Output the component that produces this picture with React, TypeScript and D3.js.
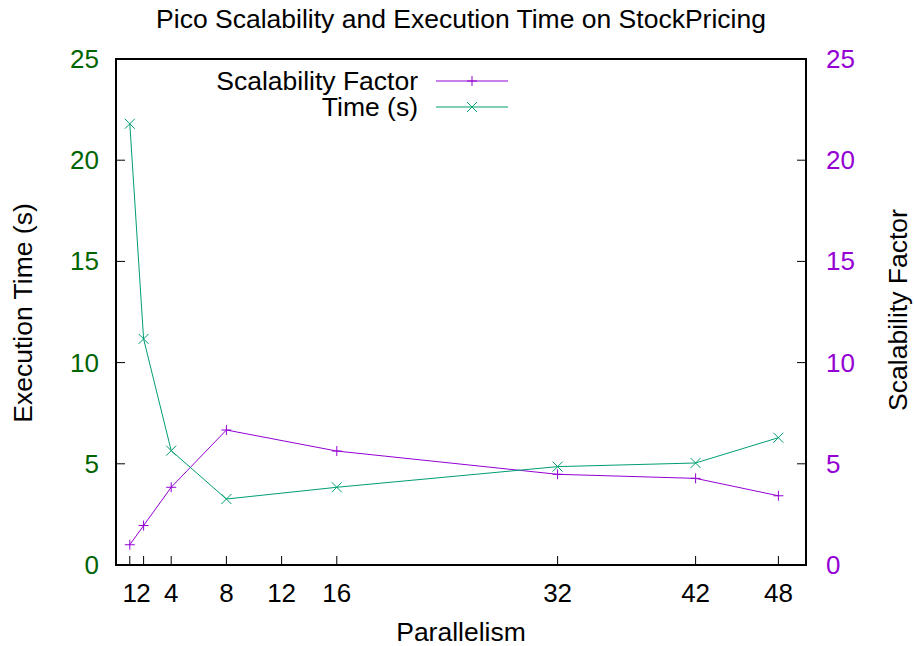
import React from "react";
import * as d3 from "d3";

const parallelism = [1, 2, 4, 8, 16, 32, 42, 48];
const timeSeconds = [21.8, 11.17, 5.65, 3.26, 3.84, 4.86, 5.04, 6.29];
const scalability = [1.0, 1.95, 3.84, 6.67, 5.63, 4.48, 4.28, 3.42];
const xTicks = [1, 2, 4, 8, 12, 16, 32, 42, 48];
const yTicks = [0, 5, 10, 15, 20, 25];

const W = 914;
const H = 646;
const L = 116, R = 806, T = 59, B = 565;
const PURPLE = "#9400d3";
const GREEN = "#009e73";
const DKGREEN = "#006400";
const FONT = "'Liberation Sans', Arial, Helvetica, sans-serif";
const FS = 26;
const FT = 26.5;

export default function App() {
  const x = d3.scaleLinear().domain([0, 50]).range([L, R]);
  const yL = d3.scaleLinear().domain([0, 25]).range([B, T]);
  const yR = d3.scaleLinear().domain([0, 25]).range([B, T]);
  const timeData = parallelism.map((p, i) => [p, timeSeconds[i]] as [number, number]);
  const scalData = parallelism.map((p, i) => [p, scalability[i]] as [number, number]);
  const lineL = d3.line<[number, number]>().x(d => x(d[0])).y(d => yL(d[1]));
  const lineR = d3.line<[number, number]>().x(d => x(d[0])).y(d => yR(d[1]));
  const s = 5;
  const plus = (cx: number, cy: number, c: string, k: string) => (
    <path key={k} d={`M${cx - s},${cy}H${cx + s}M${cx},${cy - s}V${cy + s}`} stroke={c} strokeWidth={1} fill="none" />
  );
  const cross = (cx: number, cy: number, c: string, k: string) => (
    <path key={k} d={`M${cx - s},${cy - s}L${cx + s},${cy + s}M${cx - s},${cy + s}L${cx + s},${cy - s}`} stroke={c} strokeWidth={1} fill="none" />
  );
  const tl = 9;
  return (
    <svg width={W} height={H} style={{ position: "fixed", left: 0, top: 0, background: "#fff" }} fontFamily={FONT}>
      <rect x={0} y={0} width={W} height={H} fill="#fff" />
      {xTicks.map(t => (
        <line key={"xt" + t} x1={x(t)} x2={x(t)} y1={B} y2={B - tl} stroke="#000" strokeWidth={1} />
      ))}
      {yTicks.map(t => (
        <line key={"ylt" + t} x1={L} x2={L + tl} y1={yL(t)} y2={yL(t)} stroke="#000" strokeWidth={1} />
      ))}
      {yTicks.map(t => (
        <line key={"yrt" + t} x1={R} x2={R - tl} y1={yR(t)} y2={yR(t)} stroke="#000" strokeWidth={1} />
      ))}
      <path d={lineR(scalData) || ""} stroke={PURPLE} strokeWidth={1} fill="none" />
      {scalData.map((d, i) => plus(x(d[0]), yR(d[1]), PURPLE, "p" + i))}
      <path d={lineL(timeData) || ""} stroke={GREEN} strokeWidth={1} fill="none" />
      {timeData.map((d, i) => cross(x(d[0]), yL(d[1]), GREEN, "c" + i))}
      <rect x={L} y={T} width={R - L} height={B - T} fill="none" stroke="#000" strokeWidth={2} />
      {xTicks.map(t => (
        <text key={"xl" + t} x={x(t)} y={602} textAnchor="middle" fontSize={FS} fill="#000">{t}</text>
      ))}
      {yTicks.map(t => (
        <text key={"yll" + t} x={99} y={yL(t) + 9} textAnchor="end" fontSize={FS} fill={DKGREEN}>{t}</text>
      ))}
      {yTicks.map(t => (
        <text key={"yrl" + t} x={826} y={yR(t) + 9} textAnchor="start" fontSize={FS} fill={PURPLE}>{t}</text>
      ))}
      <text x={461} y={28} textAnchor="middle" fontSize={FT} fill="#000">Pico Scalability and Execution Time on StockPricing</text>
      <text x={461} y={641} textAnchor="middle" fontSize={FT} fill="#000">Parallelism</text>
      <text transform={`translate(32,313) rotate(-90)`} textAnchor="middle" fontSize={FT} fill="#000">Execution Time (s)</text>
      <text transform={`translate(907,310) rotate(-90)`} textAnchor="middle" fontSize={FT} fill="#000">Scalability Factor</text>
      <text x={418} y={90} textAnchor="end" fontSize={FT} fill="#000">Scalability Factor</text>
      <line x1={436} x2={508} y1={81} y2={81} stroke={PURPLE} strokeWidth={1} />
      {plus(472, 81, PURPLE, "lp")}
      <text x={418} y={116} textAnchor="end" fontSize={FT} fill="#000">Time (s)</text>
      <line x1={436} x2={508} y1={107} y2={107} stroke={GREEN} strokeWidth={1} />
      {cross(472, 107, GREEN, "lc")}
    </svg>
  );
}
